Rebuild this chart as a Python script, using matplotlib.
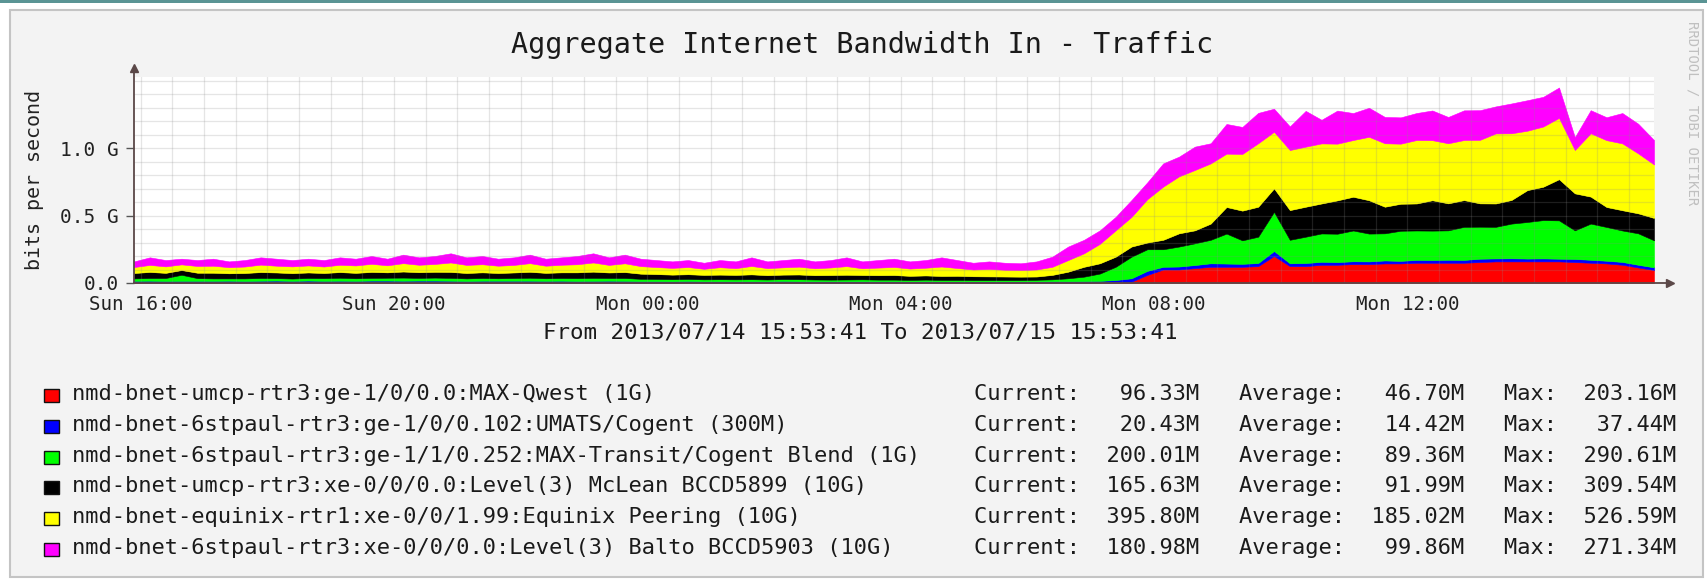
import matplotlib
matplotlib.use("Agg")
import matplotlib.pyplot as plt
import matplotlib.dates as mdates
from matplotlib.patches import Rectangle
from matplotlib.ticker import MultipleLocator
from datetime import datetime, timedelta
import numpy as np

plt.rcParams['font.family'] = ['DejaVu Sans Mono']

# ---------------- data ----------------
start = datetime(2013, 7, 14, 15, 53, 41)
end = datetime(2013, 7, 15, 15, 53, 41)
step_minutes = 15

title = "Aggregate Internet Bandwidth In - Traffic"
subtitle = "From 2013/07/14 15:53:41 To 2013/07/15 15:53:41"
y_axis_label = "bits per second"
watermark = "RRDTOOL / TOBI OETIKER"

series_names = [
    "nmd-bnet-umcp-rtr3:ge-1/0/0.0:MAX-Qwest (1G)",
    "nmd-bnet-6stpaul-rtr3:ge-1/0/0.102:UMATS/Cogent (300M)",
    "nmd-bnet-6stpaul-rtr3:ge-1/1/0.252:MAX-Transit/Cogent Blend (1G)",
    "nmd-bnet-umcp-rtr3:xe-0/0/0.0:Level(3) McLean BCCD5899 (10G)",
    "nmd-bnet-equinix-rtr1:xe-0/0/1.99:Equinix Peering (10G)",
    "nmd-bnet-6stpaul-rtr3:xe-0/0/0.0:Level(3) Balto BCCD5903 (10G)",
]
series_colors = ["#FF0000", "#0000FF", "#00FF00", "#000000", "#FFFF00", "#FF00FF"]

# traffic in Mbit/s, one value every 15 minutes (97 samples)
red_mbps = [4, 4, 3, 4, 3, 4, 4, 3, 4, 5, 4, 4, 3, 4, 4, 5, 4, 4, 5, 4,
            4, 3, 4, 4, 5, 4, 4, 4, 3, 4, 4, 4, 3, 3, 3, 4, 3, 3, 3, 3,
            3, 4, 3, 3, 3, 3, 3, 3, 3, 3, 3, 3, 3, 3, 3, 3,
            3, 3, 3, 3, 3, 4, 5, 10, 60, 100, 100, 110, 120, 120, 120, 125, 200, 125, 125, 135,
            135, 140, 140, 145, 145, 150, 150, 150, 150, 155, 160, 160, 160, 160, 160, 155, 150, 145, 135, 115,
            96]
blue_mbps = [12, 13, 12, 12, 13, 12, 13, 12, 13, 13, 12, 14, 13, 13, 12, 13, 14, 13, 13, 14,
             13, 12, 13, 13, 12, 13, 12, 13, 12, 12, 13, 12, 11, 11, 10, 11, 10, 10, 10, 10,
             10, 11, 10, 10, 10, 10, 10, 10, 10, 9, 10, 9, 9, 9, 9, 9,
             9, 9, 10, 10, 11, 12, 17, 25, 30, 20, 22, 23, 26, 24, 22, 23, 37, 21, 23, 22,
             20, 21, 20, 22, 19, 21, 20, 22, 21, 25, 22, 23, 21, 22, 20, 23, 22, 20, 21, 20,
             20]
green_mbps = [18, 20, 22, 45, 20, 18, 17, 19, 20, 18, 17, 19, 20, 22, 19, 20, 21, 23, 20, 22,
              21, 19, 20, 18, 20, 22, 19, 20, 21, 22, 20, 21, 17, 16, 15, 15, 14, 15, 14, 15,
              13, 14, 15, 13, 12, 13, 14, 12, 12, 11, 12, 11, 11, 10, 10, 10,
              10, 12, 14, 22, 33, 54, 98, 160, 160, 130, 148, 161, 174, 222, 174, 195, 290, 174, 195, 210,
              210, 228, 206, 201, 223, 218, 218, 218, 245, 237, 234, 257, 271, 284, 284, 212, 268, 250, 233, 233,
              200]
black_mbps = [40, 45, 38, 35, 40, 42, 38, 40, 44, 42, 40, 41, 38, 42, 40, 44, 40, 45, 42, 43,
              44, 40, 42, 39, 41, 44, 40, 42, 43, 46, 41, 44, 38, 36, 34, 35, 33, 34, 33, 36,
              32, 33, 35, 32, 34, 35, 32, 33, 34, 30, 31, 29, 30, 28, 27, 26,
              25, 24, 33, 49, 73, 76, 75, 75, 50, 70, 98, 96, 120, 197, 220, 222, 174, 220, 222, 222,
              247, 250, 247, 197, 200, 200, 225, 200, 198, 173, 173, 175, 236, 247, 305, 274, 200, 148, 150, 148,
              166]
yellow_mbps = [44, 52, 48, 42, 50, 52, 45, 48, 55, 50, 50, 52, 48, 54, 55, 60, 52, 62, 55, 58,
               70, 60, 60, 54, 56, 64, 53, 56, 60, 68, 56, 65, 56, 52, 50, 53, 45, 55, 50, 62,
               52, 54, 58, 51, 56, 64, 50, 56, 60, 54, 57, 70, 58, 50, 55, 50,
               49, 52, 60, 86, 100, 144, 195, 220, 321, 394, 422, 447, 446, 395, 420, 470, 419, 445, 445, 445,
               420, 420, 470, 470, 445, 470, 445, 445, 445, 470, 519, 494, 440, 446, 454, 321, 469, 495, 495, 444,
               396]
magenta_mbps = [42, 56, 47, 42, 44, 52, 43, 48, 54, 52, 47, 50, 48, 55, 50, 58, 49, 63, 55, 59,
                68, 56, 61, 52, 56, 63, 52, 55, 61, 68, 56, 64, 55, 52, 48, 52, 45, 53, 50, 64,
                50, 54, 59, 51, 55, 65, 51, 56, 61, 53, 57, 68, 59, 50, 56, 52,
                50, 60, 75, 100, 100, 100, 100, 125, 125, 172, 146, 173, 149, 220, 200, 225, 171, 175, 265, 175,
                245, 200, 215, 195, 195, 200, 220, 195, 220, 220, 200, 221, 226, 220, 225, 95, 171, 170, 225, 220,
                181]

current_m = [96.33, 20.43, 200.01, 165.63, 395.80, 180.98]
average_m = [46.70, 14.42, 89.36, 91.99, 185.02, 99.86]
max_m = [203.16, 37.44, 290.61, 309.54, 526.59, 271.34]

x_tick_labels = ["Sun 16:00", "Sun 20:00", "Mon 00:00", "Mon 04:00", "Mon 08:00", "Mon 12:00"]
first_label_time = datetime(2013, 7, 14, 16, 0, 0)
label_step_hours = 4
y_tick_values = [0.0, 0.5, 1.0]
y_tick_labels = ["0.0", "0.5 G", "1.0 G"]

# ---------------- figure ----------------
W, H = 1708, 581
fig = plt.figure(figsize=(W / 100, H / 100), dpi=100)
fig.patch.set_facecolor("white")


def fx(px):
    return px / W


def fy(py):
    return 1 - py / H


# page decoration
fig.patches.append(Rectangle((0, fy(3)), 1, 3 / H, transform=fig.transFigure,
                             facecolor="#5A9494", edgecolor="none", zorder=-2))
fig.patches.append(Rectangle((fx(10), fy(577)), fx(1703) - fx(10), fy(10) - fy(577),
                             transform=fig.transFigure, facecolor="#F3F3F3",
                             edgecolor="#C4C4C4", lw=1.5, zorder=-2))

ax_l, ax_r, ax_t, ax_b = 134, 1654, 77, 283
ax = fig.add_axes([fx(ax_l), fy(ax_b), fx(ax_r) - fx(ax_l), fy(ax_t) - fy(ax_b)])
ax.set_zorder(2)
ax.set_facecolor("white")

series = [red_mbps, blue_mbps, green_mbps, black_mbps, yellow_mbps, magenta_mbps]
times = [start + timedelta(minutes=step_minutes * i) for i in range(len(red_mbps))]
tnum = mdates.date2num(times)

lower = np.zeros(len(tnum))
for vals, col in zip(series, series_colors):
    upper = lower + np.array(vals) / 1000.0
    ax.fill_between(tnum, lower, upper, facecolor=col, edgecolor=col, lw=0.4, zorder=1)
    lower = upper

ax.set_xlim(mdates.date2num(start), mdates.date2num(end))
ax.set_ylim(0, (ax_b - ax_t) / 135.0)

tick_times = [first_label_time + timedelta(hours=label_step_hours * k) for k in range(len(x_tick_labels))]
ax.set_xticks(mdates.date2num(tick_times))
ax.set_xticklabels(x_tick_labels)
ax.xaxis.set_minor_locator(mdates.MinuteLocator(byminute=[0, 30]))
ax.set_yticks(y_tick_values)
ax.set_yticklabels(y_tick_labels)
ax.yaxis.set_minor_locator(MultipleLocator(0.1))

ax.grid(which="both", color="#8C8C8C", alpha=0.22, lw=0.9)
ax.set_axisbelow(False)

ax.tick_params(axis="x", which="both", length=0, pad=9, labelsize=13.8, colors="#222222")
ax.tick_params(axis="y", which="major", length=6, width=1.0, color="#555555", pad=5,
               labelsize=14, labelcolor="#222222")
ax.tick_params(axis="y", which="minor", length=0)
for s in ax.spines.values():
    s.set_visible(False)

axis_col = "#5B4848"
ytop = 1 + 9 / (ax_b - ax_t)
xend = 1 + 16 / (ax_r - ax_l)
ax.plot([0, 0], [0, ytop], transform=ax.transAxes, color=axis_col, lw=1.3, clip_on=False, zorder=4)
ax.plot([0, xend], [0, 0], transform=ax.transAxes, color=axis_col, lw=1.3, clip_on=False, zorder=4)
ax.plot([0], [ytop], transform=ax.transAxes, marker="^", ms=6, color=axis_col, clip_on=False, zorder=4)
ax.plot([xend], [0], transform=ax.transAxes, marker=">", ms=6, color=axis_col, clip_on=False, zorder=4)

# texts
fig.text(fx(862), fy(45), title, ha="center", va="center", fontsize=20.4, color="#1A1A1A")
fig.text(fx(860), fy(333), subtitle, ha="center", va="center", fontsize=16.2, color="#1A1A1A")
fig.text(fx(35), fy(180), y_axis_label, ha="center", va="center", rotation=90,
         fontsize=14.4, color="#222222")
fig.text(fx(1693), fy(113), watermark, ha="center", va="center", rotation=270,
         fontsize=10, color="#C0C0C0")

# legend
base0, row_h = 400, 30.8
for i, (name, col) in enumerate(zip(series_names, series_colors)):
    yb = base0 + row_h * i
    fig.patches.append(Rectangle((fx(44), fy(yb + 2)), 15 / W, 13 / H, transform=fig.transFigure,
                                 facecolor=col, edgecolor="#111111", lw=1.0, zorder=3))
    fig.text(fx(72), fy(yb), name, ha="left", va="baseline", fontsize=15.8, color="#1A1A1A")
    stats = "Current:{:8.2f}M   Average:{:8.2f}M   Max:{:8.2f}M".format(
        current_m[i], average_m[i], max_m[i])
    fig.text(fx(974), fy(yb), stats, ha="left", va="baseline", fontsize=15.8, color="#1A1A1A")

fig.savefig("out.png", dpi=100)
